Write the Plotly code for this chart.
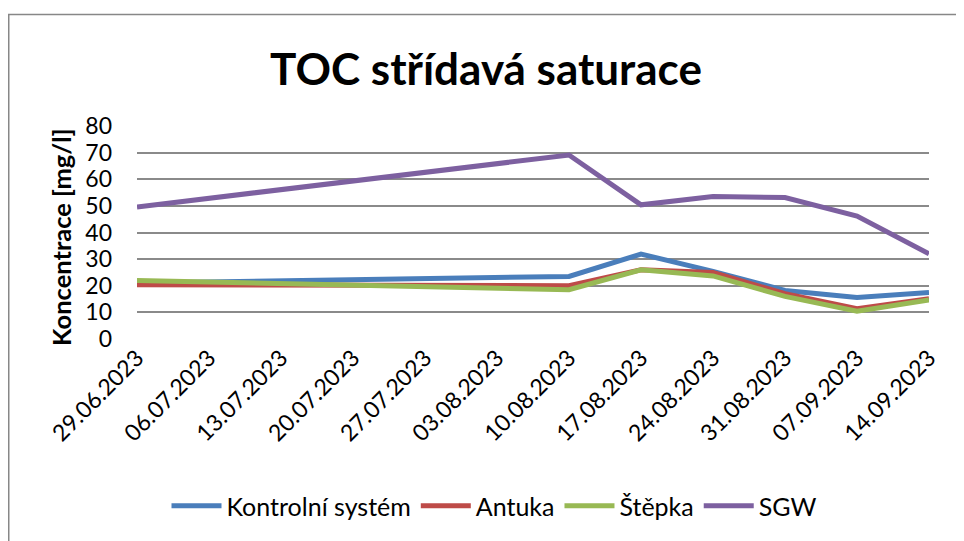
import plotly.graph_objects as go

dates = ["2023-06-29", "2023-08-10", "2023-08-17", "2023-08-24", "2023-08-31", "2023-09-07", "2023-09-14"]
kontrolni = [21.0, 23.5, 31.9, 25.4, 18.2, 15.6, 17.5]
antuka = [20.4, 20.0, 26.0, 25.0, 17.0, 11.4, 15.1]
stepka = [22.0, 18.5, 26.0, 23.7, 16.0, 10.4, 14.7]
sgw = [49.6, 69.1, 50.4, 53.5, 53.1, 46.2, 32.0]

tick_dates = ["2023-06-29", "2023-07-06", "2023-07-13", "2023-07-20", "2023-07-27", "2023-08-03",
              "2023-08-10", "2023-08-17", "2023-08-24", "2023-08-31", "2023-09-07", "2023-09-14"]
tick_labels = ["29.06.2023", "06.07.2023", "13.07.2023", "20.07.2023", "27.07.2023", "03.08.2023",
               "10.08.2023", "17.08.2023", "24.08.2023", "31.08.2023", "07.09.2023", "14.09.2023"]

series = [
    ("Kontrolní systém", kontrolni, "#4A7EBB"),
    ("Antuka", antuka, "#BE4B48"),
    ("Štěpka", stepka, "#98B954"),
    ("SGW", sgw, "#7D60A0"),
]

FONT = "Lato"
fig = go.Figure()
for name, vals, col in series:
    fig.add_trace(go.Scatter(x=dates, y=vals, name=name, mode="lines",
                             line=dict(color=col, width=5)))

# page is offset by 8px body margin
OFF = 8
W, H = 964 - OFF, 541 - OFF
L, R, T, B = 137 - OFF, 35, 126 - OFF, 541 - 339
pw, ph = W - L - R, H - T - B

def px(xp):  # page x -> paper
    return (xp - OFF - L) / pw

def py(yp):  # page y -> paper
    return (T + ph - (yp - OFF)) / ph

fig.update_layout(
    width=W, height=H,
    margin=dict(l=L, r=R, t=T, b=B),
    paper_bgcolor="white", plot_bgcolor="white",
    font=dict(family=FONT, color="black", size=22),
    title=dict(text="<b>TOC střídavá saturace</b>", x=0.5, xanchor="center",
               y=1 - (70 - OFF) / H, yanchor="middle", font=dict(size=44, family=FONT)),
    showlegend=True,
    legend=dict(orientation="h", x=px(494), xanchor="center",
                y=py(506), yanchor="middle",
                font=dict(size=25, family=FONT), itemwidth=50,
                bgcolor="rgba(0,0,0,0)"),
    xaxis=dict(type="date", range=["2023-06-29", "2023-09-14"],
               tickvals=tick_dates, ticktext=tick_labels, tickangle=-45,
               showgrid=False, zeroline=False, showline=False, ticks="",
               tickfont=dict(size=23, family=FONT)),
    yaxis=dict(range=[0, 80], dtick=10, showgrid=True, gridcolor="#8A8A8A", gridwidth=1.5,
               zeroline=False, showline=False, ticks="", ticklabelstandoff=24,
               tickfont=dict(size=23, family=FONT)),
    annotations=[dict(text="<b>Koncentrace [mg/l]</b>", xref="paper", yref="paper",
                      x=px(61), y=py(238), xanchor="center", yanchor="middle",
                      textangle=-90, showarrow=False, font=dict(size=25.5, family=FONT))],
    shapes=[dict(type="rect", xref="paper", yref="paper",
                 x0=(0.75 - L) / pw, x1=(W + 10 - L) / pw,
                 y0=(T + ph - (H + 10)) / ph, y1=py(14.5),
                 line=dict(color="#878787", width=1.5), fillcolor="rgba(0,0,0,0)", layer="below")],
)

fig.write_html("out.html")
